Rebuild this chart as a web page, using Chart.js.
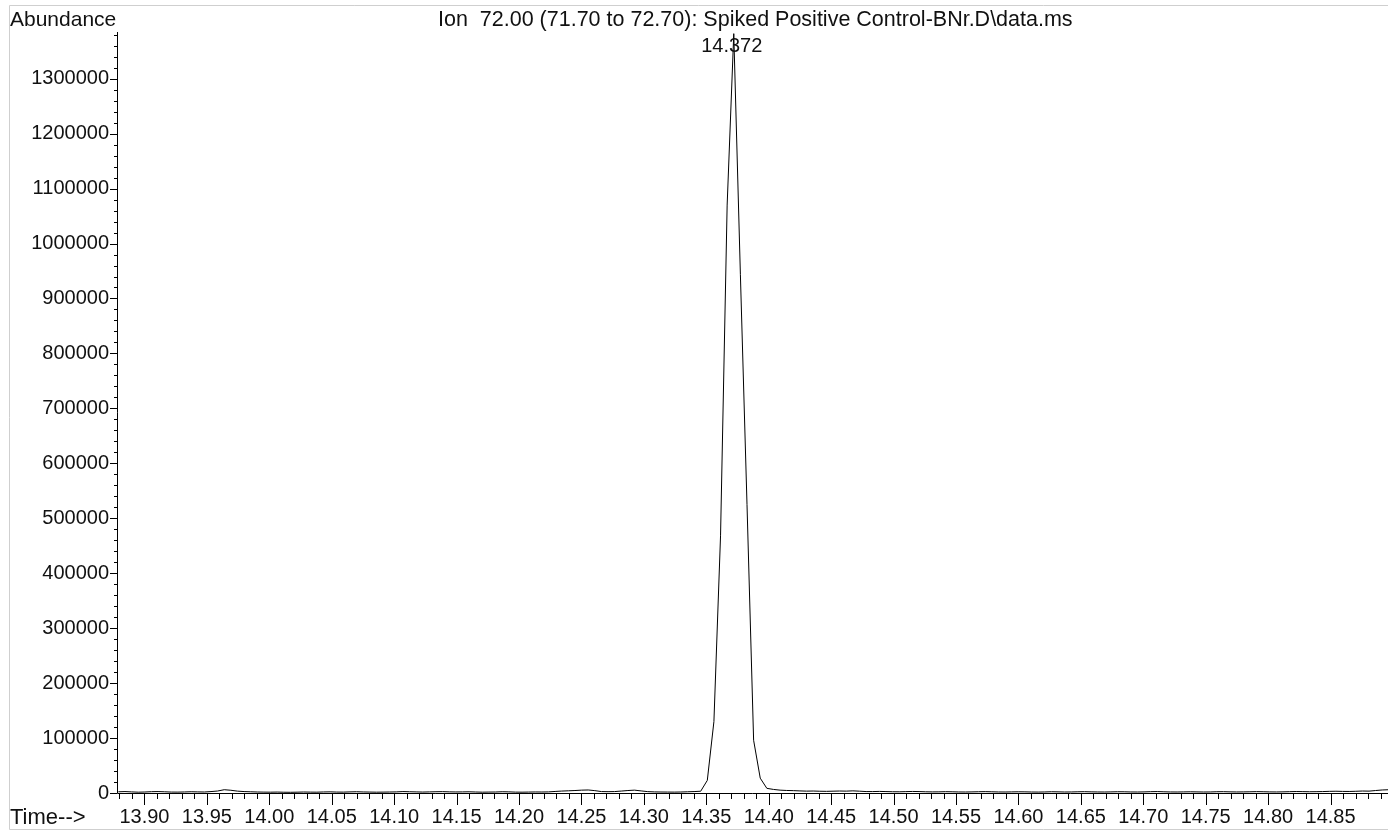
<!DOCTYPE html>
<html>
<head>
<meta charset="utf-8">
<script src="https://cdn.jsdelivr.net/npm/chart.js@4/dist/chart.umd.min.js"></script>
<style>
  html, body { margin: 0; padding: 0; background: #fff; overflow: hidden; }
  #chart { display: block; }
</style>
</head>
<body>
<canvas id="chart" width="1388" height="831"></canvas>
<script>
// --- DATA ---
const chartTitle = 'Ion  72.00 (71.70 to 72.70): Spiked Positive Control-BNr.D\\data.ms';
const peakLabel = '14.372';
const yAxisTitle = 'Abundance';
const xAxisTitle = 'Time-->';

// scan grid (minutes)
const scanStart = 13.8791;
const scanStep = 0.0053;

// abundance per scan
const abundance = [
  2200, 2600, 2000, 1500, 1800, 2400, 2600, 2200, 1700, 1600,
  1900, 2300, 2000, 1800, 2600, 3600, 6000, 5000, 3400, 2600,
  2200, 1800, 1600, 1500, 1700, 1400, 1300, 1500, 1800, 1600,
  1500, 1900, 2100, 1700, 1600, 2000, 2300, 1900, 1700, 1500,
  1600, 1800, 2000, 2600, 2300, 2000, 1700, 2000, 2300, 2500,
  2100, 1900, 2000, 2200, 1800, 1500, 1700, 1800, 2300, 2100,
  1600, 1500, 1700, 1900, 1800, 2000, 2800, 3500, 4000, 4500,
  5200, 5500, 4300, 2600, 2400, 2600, 3500, 4500, 5200, 3800,
  2500, 2000, 1800, 1700, 1600, 1800, 2200, 2600, 3200, 23000,
  130000, 468000, 1070000, 1382000, 944000, 525000, 96000, 27000, 8500, 6500,
  5200, 4600, 4300, 3800, 3400, 3600, 3200, 3000, 3300, 3600,
  3400, 3900, 3300, 2600, 2600, 2900, 2600, 2300, 2200, 2500,
  2800, 2600, 2200, 2000, 2100, 2400, 2200, 1900, 1800, 2000,
  2300, 2500, 2200, 1900, 1800, 2000, 2200, 2100, 1800, 1700,
  1900, 2300, 2100, 1800, 1900, 2200, 2400, 2100, 1900, 1800,
  2000, 2300, 2200, 1900, 1800, 2000, 2400, 2600, 2200, 1900,
  1800, 2000, 2200, 2000, 1800, 1900, 2300, 2400, 2100, 1900,
  2000, 2200, 2500, 2300, 2000, 1900, 2100, 2400, 2700, 2500,
  2300, 2400, 2600, 3000, 3200, 2900, 2800, 3100, 3600, 3400,
  4500, 5500, 6000
];

// labelled y ticks
const yTickValues = [0, 100000, 200000, 300000, 400000, 500000, 600000,
  700000, 800000, 900000, 1000000, 1100000, 1200000, 1300000];

const xMin = 13.878, xMax = 14.896;
const yMax = 1385000;

const points = abundance.map((v, i) => ({ x: scanStart + i * scanStep, y: v }));

const FONT = 'Liberation Sans, Arial, Helvetica, sans-serif';
const TEXT = '#111';

// axis lines, tick marks, headers and the light frame
const decorPlugin = {
  id: 'decor',
  afterDraw(chart) {
    const { ctx, chartArea: a } = chart;
    const xs = chart.scales.x, ys = chart.scales.y;
    ctx.save();

    // frame
    ctx.strokeStyle = '#cfcfcf';
    ctx.lineWidth = 1;
    ctx.beginPath();
    ctx.moveTo(9.5, 829.5); ctx.lineTo(9.5, 5.5); ctx.lineTo(1388, 5.5);
    ctx.moveTo(9.5, 829.5); ctx.lineTo(1388, 829.5);
    ctx.stroke();

    // axes
    ctx.strokeStyle = '#000';
    ctx.beginPath();
    ctx.moveTo(a.left + 0.5, a.top); ctx.lineTo(a.left + 0.5, a.bottom + 0.5);
    ctx.lineTo(a.right, a.bottom + 0.5);
    ctx.stroke();

    // x ticks every 0.01, long on 0.05
    ctx.beginPath();
    for (let k = Math.ceil(xMin * 100); k <= Math.floor(xMax * 100); k++) {
      const px = Math.round(xs.getPixelForValue(k / 100)) + 0.5;
      const len = k % 5 === 0 ? 12 : 6;
      ctx.moveTo(px, a.bottom); ctx.lineTo(px, a.bottom + len);
    }
    // y ticks every 20000, long on 100000
    for (let v = 0; v <= yMax; v += 20000) {
      const py = Math.round(ys.getPixelForValue(v)) + 0.5;
      const len = v % 100000 === 0 ? 7 : 3;
      ctx.moveTo(a.left - len, py); ctx.lineTo(a.left, py);
    }
    ctx.stroke();

    // texts
    ctx.fillStyle = TEXT;
    ctx.textBaseline = 'alphabetic';
    ctx.textAlign = 'left';
    ctx.font = '21px ' + FONT;
    ctx.fillText(yAxisTitle, 10, 26);
    ctx.font = '21.5px ' + FONT;
    ctx.fillText(chartTitle, 438, 26);
    ctx.font = '22px ' + FONT;
    ctx.fillText(xAxisTitle, 10, 824);
    ctx.font = '20px ' + FONT;
    ctx.textAlign = 'center';
    const peakX = xs.getPixelForValue(points[93].x);
    ctx.fillText(peakLabel, peakX - 2, 52);
    ctx.restore();
  }
};

Chart.defaults.font.family = FONT;
Chart.defaults.font.size = 20;
Chart.defaults.color = TEXT;

new Chart(document.getElementById('chart'), {
  type: 'line',
  data: {
    datasets: [{
      data: points,
      borderColor: '#000',
      borderWidth: 1,
      pointRadius: 0,
      tension: 0,
      fill: false
    }]
  },
  options: {
    responsive: false,
    animation: false,
    devicePixelRatio: 1,
    layout: { padding: { left: 0, right: 0, top: 32, bottom: 0 } },
    plugins: { legend: { display: false }, tooltip: { enabled: false } },
    scales: {
      x: {
        type: 'linear',
        min: xMin,
        max: xMax,
        grid: { display: false, drawTicks: false },
        border: { display: false },
        ticks: {
          stepSize: 0.05,
          includeBounds: false,
          autoSkip: false,
          maxRotation: 0,
          padding: 12,
          callback: v => v.toFixed(2)
        },
        afterFit: s => { s.height = 38; }
      },
      y: {
        min: 0,
        max: yMax,
        grid: { display: false, drawTicks: false },
        border: { display: false },
        ticks: {
          autoSkip: false,
          padding: 8,
          callback: v => String(v)
        },
        afterBuildTicks: s => { s.ticks = yTickValues.map(v => ({ value: v })); },
        afterFit: s => { s.width = 117; }
      }
    }
  },
  plugins: [decorPlugin]
});
</script>
</body>
</html>
